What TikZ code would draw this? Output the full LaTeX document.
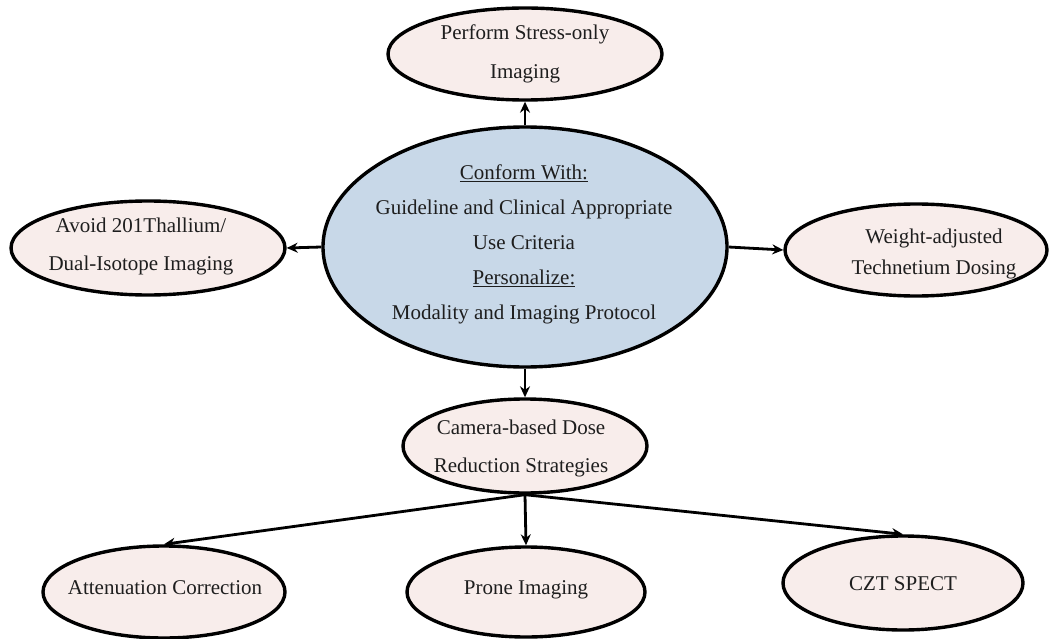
\documentclass[tikz,border=0pt]{standalone}
\usepackage{fontspec}
\setmainfont{Liberation Serif}
\usetikzlibrary{shapes.geometric,arrows.meta}
\definecolor{pinkfill}{HTML}{F8EDEB}
\definecolor{bluefill}{HTML}{C8D8E8}
\definecolor{txt}{HTML}{1E1E1E}
\tikzset{
  ell/.style n args={2}{ellipse, draw=black, line width=3.4pt, inner sep=0pt,
    minimum width=#1, minimum height=#2},
  pinkell/.style 2 args={ell={#1}{#2}, fill=pinkfill},
  blueell/.style 2 args={ell={#1}{#2}, fill=bluefill},
  lbl/.style={align=center, text=txt, inner sep=0pt},
  arr/.style={line width=2.8pt, -{Stealth[length=11pt,width=10pt]}},
}
\newcommand{\fs}[1]{\fontsize{21}{#1}\selectfont}
\begin{document}
\begin{tikzpicture}[x=1pt,y=-1pt]
\useasboundingbox (0,0) rectangle (1049,639);
% ellipses
\node[blueell={404pt}{240pt}] (c) at (525,247) {};
\node[pinkell={274pt}{92pt}] (top) at (525,54) {};
\node[pinkell={274pt}{94pt}] (left) at (148,248) {};
\node[pinkell={262pt}{92pt}] (right) at (916,250) {};
\node[pinkell={244pt}{94pt}] (cam) at (525,446) {};
\node[pinkell={242pt}{92pt}] (att) at (164,592) {};
\node[pinkell={238pt}{90pt}] (prone) at (526,592) {};
\node[pinkell={240pt}{94pt}] (czt) at (903,583) {};
% labels
\node[lbl, font=\fs{35}] (ct) at (524,244) {\underline{Conform With:}\\Guideline and Clinical Appropriate\\Use Criteria\\\underline{Personalize:}\\Modality and Imaging Protocol};
\node[lbl, font=\fs{39}] (topt) at (525,54) {Perform Stress-only\\Imaging};
\node[lbl, font=\fs{38}] (leftt) at (141,246) {Avoid 201Thallium/\\Dual-Isotope Imaging};
\node[lbl, font=\fs{31}] (rightt) at (934,254) {Weight-adjusted\\Technetium Dosing};
\node[lbl, font=\fs{38}] (camt) at (521,448) {Camera-based Dose\\Reduction Strategies};
\node[lbl, font=\fs{25}] (attt) at (165,588) {Attenuation Correction};
\node[lbl, font=\fs{25}] (pronet) at (526,590) {Prone Imaging};
\node[lbl, font=\fs{25}] (cztt) at (903,584) {CZT SPECT};
% connectors
\draw[arr] (c.north) -- (top.south);
\draw[arr] (c.west) -- (left.east);
\draw[arr] (c.east) -- (right.west);
\draw[arr] (c.south) -- (cam.north);
\draw[arr] (cam.south) -- (att.north);
\draw[arr] (cam.south) -- (prone.north);
\draw[arr] (cam.south) -- (czt.north);
\end{tikzpicture}
\end{document}
